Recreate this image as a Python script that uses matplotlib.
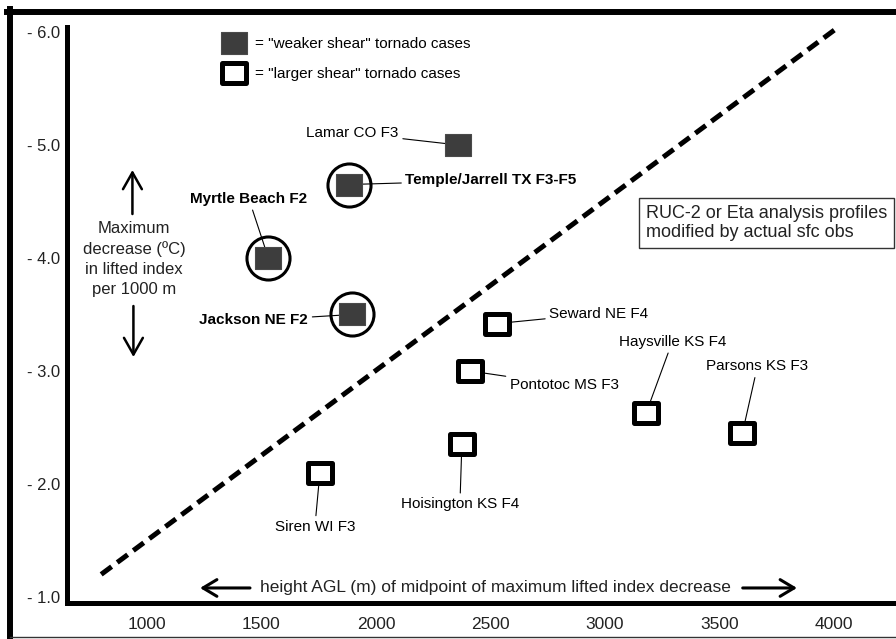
import matplotlib
matplotlib.use("Agg")
import matplotlib.pyplot as plt
from matplotlib.path import Path
from matplotlib.lines import Line2D
import numpy as np

plt.rcParams['font.family'] = ['Liberation Sans', 'DejaVu Sans']

# "weaker shear" cases (filled squares)
weak_names = ["Lamar CO F3", "Temple/Jarrell TX F3-F5", "Myrtle Beach F2", "Jackson NE F2"]
weak_x = [2360, 1880, 1530, 1895]
weak_y = [-5.0, -4.65, -4.0, -3.5]
weak_circled = [False, True, True, True]

# "larger shear" cases (open squares)
strong_names = ["Seward NE F4", "Pontotoc MS F3", "Haysville KS F4",
                "Parsons KS F3", "Hoisington KS F4", "Siren WI F3"]
strong_x = [2530, 2410, 3180, 3600, 2375, 1755]
strong_y = [-3.42, -3.0, -2.63, -2.45, -2.35, -2.1]

# dashed dividing line
line_x = [800, 4010]
line_y = [-1.2, -6.03]

x_ticks = [1000, 1500, 2000, 2500, 3000, 3500, 4000]
y_ticks = [-1.0, -2.0, -3.0, -4.0, -5.0, -6.0]

# label layout: offset in points from the mark, horizontal alignment
weak_lab = [((-43, 8.6), 'right'), ((41, 3), 'left'),
            ((-14, 42.5), 'center'), ((-31.5, -4.3), 'right')]
strong_lab = [((37.4, 7.2), 'left'), ((28.8, -10), 'left'), ((18.7, 51), 'center'),
              ((10.8, 48), 'center'), ((-1.4, -43), 'center'), ((-3.6, -39), 'center')]

rect = Path([(-1, -0.84), (1, -0.84), (1, 0.84), (-1, 0.84), (-1, -0.84)],
            [Path.MOVETO, Path.LINETO, Path.LINETO, Path.LINETO, Path.CLOSEPOLY])

fig = plt.figure(figsize=(8.96, 6.39), dpi=100)
ax = fig.add_axes([0.0753, 0.0556, 0.9247, 0.9021])
ax.set_xlim(652.8, 4270.7)
ax.set_ylim(-0.9425, -6.044)

for s in ['top', 'right']:
    ax.spines[s].set_visible(False)
for s in ['left', 'bottom']:
    ax.spines[s].set_linewidth(3.6)
    ax.spines[s].set_capstyle('projecting')

ax.set_xticks(x_ticks)
ax.set_xticklabels([str(v) for v in x_ticks])
ax.set_yticks(y_ticks)
ax.set_yticklabels(["- %.1f" % abs(v) for v in y_ticks])
ax.tick_params(axis='x', length=0, pad=10, labelsize=12.5, labelcolor='#222222')
ax.tick_params(axis='y', length=0, pad=5, labelsize=12, labelcolor='#222222')

ax.plot(line_x, line_y, color='black', lw=3.6, linestyle=(0, (2.6, 1.4)), zorder=2)

h_weak, = ax.plot(weak_x, weak_y, linestyle='none', marker=rect, ms=19.4,
                  mfc='#3d3d3d', mec='#4a4a4a', mew=0.8, zorder=5,
                  label='= "weaker shear" tornado cases')
h_strong, = ax.plot(strong_x, strong_y, linestyle='none', marker=rect, ms=16.6,
                    mfc='white', mec='black', mew=3.6, zorder=5,
                    label='= "larger shear" tornado cases')

cx = [x for x, c in zip(weak_x, weak_circled) if c]
cy = [y for y, c in zip(weak_y, weak_circled) if c]
ax.plot(cx, cy, linestyle='none', marker='o', ms=31, mfc='none', mec='black',
        mew=2.2, zorder=4)

arrow_kw = dict(arrowstyle='-', lw=0.8, color='black', shrinkA=1, shrinkB=0)
for name, x, y, (off, ha), circ in zip(weak_names, weak_x, weak_y, weak_lab, weak_circled):
    ax.annotate(name, xy=(x, y), xytext=off, textcoords='offset points',
                ha=ha, va='center', fontsize=11,
                fontweight='bold' if circ else 'normal', arrowprops=arrow_kw, zorder=3)
for name, x, y, (off, ha) in zip(strong_names, strong_x, strong_y, strong_lab):
    ax.annotate(name, xy=(x, y), xytext=off, textcoords='offset points',
                ha=ha, va='center', fontsize=11, arrowprops=arrow_kw, zorder=3)

ax.legend(handles=[h_weak, h_strong], loc='upper left', bbox_to_anchor=(0.188, 0.982),
          frameon=False, fontsize=11, numpoints=1, handlelength=1.4,
          handletextpad=0.67, labelspacing=1.02, borderpad=0, borderaxespad=0)

# y-axis description with arrows
ax.text(0.0803, 0.5976, "Maximum\ndecrease (ºC)\nin lifted index\nper 1000 m",
        transform=ax.transAxes, ha='center', va='center', fontsize=12,
        linespacing=1.4, color='#222222')
ax.annotate('', xy=(0.0784, 0.752), xytext=(0.0784, 0.6756), xycoords='axes fraction',
            arrowprops=dict(arrowstyle='->,head_length=0.6,head_width=0.34', lw=1.8,
                            color='black', mutation_scale=20, shrinkA=0, shrinkB=0))
ax.annotate('', xy=(0.0796, 0.4275), xytext=(0.0796, 0.516), xycoords='axes fraction',
            arrowprops=dict(arrowstyle='->,head_length=0.6,head_width=0.34', lw=1.8,
                            color='black', mutation_scale=20, shrinkA=0, shrinkB=0))

# x-axis description with arrows
ax.text(0.516, 0.0269, "height AGL (m) of midpoint of maximum lifted index decrease",
        transform=ax.transAxes, ha='center', va='center', fontsize=12.5, color='#222222')
ax.annotate('', xy=(0.160, 0.0269), xytext=(0.2203, 0.0269), xycoords='axes fraction',
            arrowprops=dict(arrowstyle='->,head_length=0.5,head_width=0.3', lw=2.2,
                            color='black', mutation_scale=20, shrinkA=0, shrinkB=0))
ax.annotate('', xy=(0.8805, 0.0269), xytext=(0.815, 0.0269), xycoords='axes fraction',
            arrowprops=dict(arrowstyle='->,head_length=0.5,head_width=0.3', lw=2.2,
                            color='black', mutation_scale=20, shrinkA=0, shrinkB=0))

ax.text(0.698, 0.66, "RUC-2 or Eta analysis profiles\nmodified by actual sfc obs",
        transform=ax.transAxes, ha='left', va='center', fontsize=13, linespacing=1.15,
        color='#222222',
        bbox=dict(boxstyle='square,pad=0.4', fc='white', ec='#333333', lw=1))

# outer frame of the original picture
fig.add_artist(Line2D([7 / 896, 1], [0.9812, 0.9812], transform=fig.transFigure,
                      color='black', lw=4.3))
fig.add_artist(Line2D([0.0115, 0.0115], [0, 0.986], transform=fig.transFigure,
                      color='black', lw=4.3))
fig.add_artist(Line2D([0.0115, 1], [0.0025, 0.0025], transform=fig.transFigure,
                      color='#333333', lw=1.0))

plt.savefig("out.png", dpi=100)
